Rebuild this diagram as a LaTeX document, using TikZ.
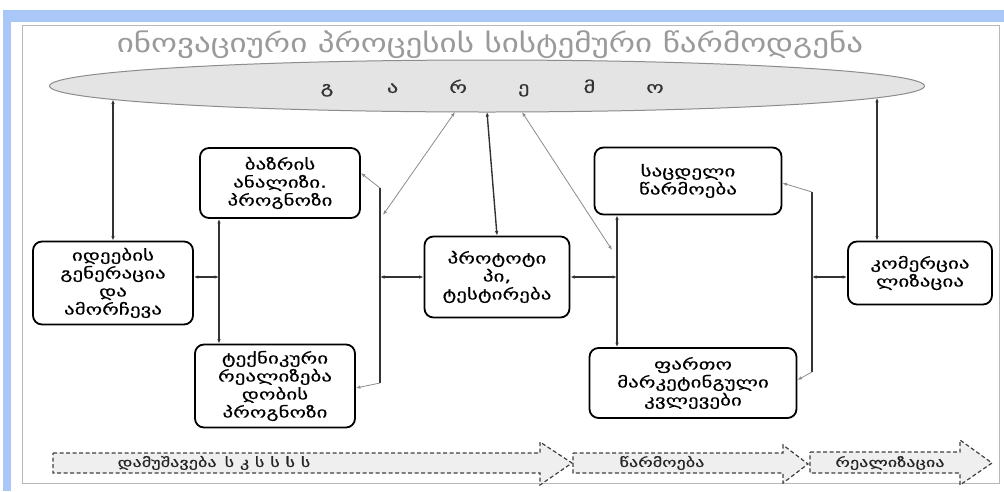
\documentclass[tikz,border=0pt]{standalone}
\usepackage{fontspec}
\newfontfamily\geo{DejaVu Sans}
\newfontfamily\geobox[FakeStretch=1.4,FakeBold=0.5]{DejaVu Sans}
\newfontfamily\geotitle[FakeStretch=1.27]{DejaVu Sans}
\newfontfamily\geolab[FakeStretch=1.4,FakeBold=0.6]{DejaVu Sans}
\usetikzlibrary{arrows.meta,shapes.geometric}
\definecolor{bandblue}{HTML}{A9C7F7}
\definecolor{framegray}{HTML}{B8B8B8}
\definecolor{titlegray}{HTML}{9A9A9A}
\definecolor{ellfill}{HTML}{E4E4E4}
\definecolor{ellline}{HTML}{8C8C8C}
\definecolor{arrfill}{HTML}{EFEFEF}
\newcommand{\envl}[1]{\makebox[65.6pt]{#1}}
\tikzset{
  gbox/.style={draw=black, line width=1.8pt, rounded corners=9pt, fill=white,
    align=center, font=\geobox\fontsize{15}{18}\selectfont, inner sep=2pt},
  conn/.style={draw=black!80, line width=1.4pt},
  lite/.style={draw=black!45, line width=0.8pt},
  bigarrow/.style={draw=black!75, fill=arrfill, line width=1.2pt, dash pattern=on 4pt off 2.5pt},
  arrlabel/.style={font=\geolab\fontsize{13}{15}\selectfont, text=black!85},
  >={Latex[length=4.5pt,width=3.5pt]}
}
\begin{document}
\begin{tikzpicture}[x=1pt,y=-1pt]
\useasboundingbox (0,0) rectangle (1004,491);
% frame
\fill[white] (0,0) rectangle (1004,491);
\fill[bandblue] (3,10) rectangle (1004,491);
\fill[white] (11,22) rectangle (1004,491);
\draw[framegray, line width=0.8pt] (22,25) rectangle (999,483);
% title
\node[font=\geotitle\fontsize{26}{30}\selectfont, text=titlegray] (title) at (490,45) {ინოვაციური პროცესის სისტემური წარმოდგენა};
% environment ellipse
\node[ellipse, draw=ellline, fill=ellfill, line width=1pt, minimum width=875pt, minimum height=52pt, inner sep=0pt] (env) at (487,86) {};
\node[font=\geobox\fontsize{16}{16}\selectfont, text=black!80, inner sep=0pt] (envtxt) at (491,88) {\envl{გ}\envl{ა}\envl{რ}\envl{ე}\envl{მ}\envl{ო}};
% boxes
\node[gbox, minimum width=160pt, minimum height=70pt] (bazr) at (280,183) {ბაზრის\\ანალიზი.\\პროგნოზი};
\node[gbox, minimum width=160pt, minimum height=83pt] (ideeb) at (113,283) {იდეების\\გენერაცია\\და\\ამორჩევა};
\node[gbox, minimum width=160pt, minimum height=83pt] (teqn) at (275,386) {ტექნიკური\\რეალიზება\\დობის\\პროგნოზი};
\node[gbox, minimum width=145pt, minimum height=81pt] (proto) at (497,277) {პროტოტი\\პი,\\ტესტირება};
\node[gbox, minimum width=187pt, minimum height=67pt] (sacd) at (688,181) {საცდელი\\წარმოება};
\node[gbox, minimum width=207pt, minimum height=70pt] (fart) at (693,383) {ფართო\\მარკეტინგული\\კვლევები};
\node[gbox, minimum width=144pt, minimum height=63pt] (komer) at (920,273) {კომერცია\\ლიზაცია};
% coordinates
\coordinate (mid) at (0,277);
\coordinate (e1) at (113,99.5);
\coordinate (e2) at (487,112);
\coordinate (e3) at (877,97.8);
\coordinate (e4) at (455,112);
\coordinate (e5) at (522,112);
\coordinate (k3) at (877,0);
\coordinate (lb) at (219,0);
\coordinate (rbt) at (380,188);
\coordinate (rbb) at (380,383);
\coordinate (d1) at (383,215);
\coordinate (sl) at (617,0);
\coordinate (d2) at (612,250);
\coordinate (srt) at (812,192);
\coordinate (srb) at (812,372);
% vertical links to environment
\draw[conn, <->] (e1) -- (ideeb.north);
\draw[conn, <->] (e2) -- (proto.north);
\draw[conn, <->] (e3) -- (k3 |- komer.north);
\draw[lite, <->] (e4) -- (d1);
\draw[lite, <->] (e5) -- (d2);
% left group
\draw[conn, <->] (lb |- bazr.south) -- (lb |- teqn.north);
\draw[conn, <->] (ideeb.east |- mid) -- (lb |- mid);
\draw[conn] (rbt) -- (rbb);
\draw[lite, ->] (rbt) -- (bazr.east |- 0,173);
\draw[lite, ->] (rbb) -- (teqn.east |- 0,388);
\draw[conn, <->] (rbt |- mid) -- (proto.west |- mid);
% right group
\draw[conn, <->] (sl |- sacd.south) -- (sl |- fart.north);
\draw[conn, <->] (proto.east |- mid) -- (sl |- mid);
\draw[conn] (srt) -- (srb);
\draw[lite, ->] (srt) -- (sacd.east |- 0,183);
\draw[lite, ->] (srb) -- (fart.east |- 0,380);
\draw[conn, <->] (srt |- mid) -- (komer.west |- mid);
% bottom stage arrows
\draw[bigarrow] (53,453) -- (540,453) -- (540,442) -- (572,463) -- (540,485) -- (540,473) -- (53,473) -- cycle;
\draw[bigarrow] (573,453) -- (783,453) -- (783,445) -- (808,464) -- (783,483) -- (783,473) -- (573,473) -- cycle;
\draw[bigarrow] (810,452) -- (960,452) -- (960,440) -- (992,463) -- (960,485) -- (960,473) -- (810,473) -- cycle;
\node[arrlabel] (st1) at (214,463) {დამუშავება\hspace{8pt}ს კ ს ს ს ს};
\node[arrlabel] (st2) at (662,463) {წარმოება};
\node[arrlabel] (st3) at (890,463) {რეალიზაცია};
\end{tikzpicture}
\end{document}
